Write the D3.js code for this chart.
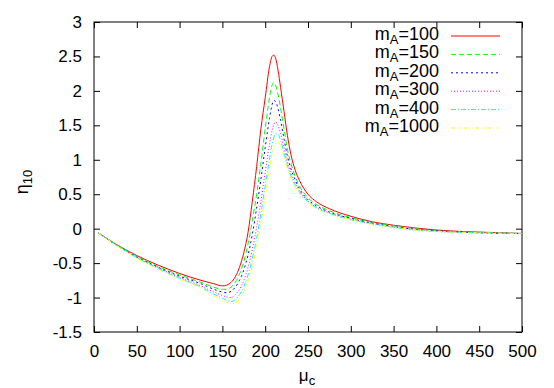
<!DOCTYPE html>
<html>
<head>
<meta charset="utf-8">
<script src="https://cdn.jsdelivr.net/npm/d3@7"></script>
<style>
  body { margin: 0; background: #fff; }
  svg { display: block; font-family: "Liberation Sans", Arial, sans-serif; }
</style>
</head>
<body>
<svg id="chart" width="554" height="388"></svg>
<script>
// mu_c grid shared by all series
var mu = [5, 25, 50, 75, 100, 125, 140, 150, 155, 160, 165, 170, 175, 180, 185, 190, 195, 200, 205, 208, 210, 212, 215, 218, 222, 226, 230, 235, 240, 250, 260, 275, 300, 325, 350, 375, 400, 450, 500];

// eta_10 for each m_A
var eta100  = [-0.06, -0.22, -0.39, -0.53, -0.65, -0.75, -0.80, -0.83, -0.82, -0.78, -0.70, -0.56, -0.35, -0.05, 0.40, 0.90, 1.45, 1.90, 2.35, 2.50, 2.52, 2.48, 2.30, 2.05, 1.70, 1.35, 1.08, 0.85, 0.70, 0.50, 0.39, 0.29, 0.18, 0.10, 0.05, 0.01, -0.02, -0.05, -0.07];
var eta150  = [-0.06, -0.22, -0.40, -0.55, -0.67, -0.78, -0.85, -0.88, -0.88, -0.85, -0.78, -0.66, -0.48, -0.22, 0.12, 0.50, 0.95, 1.45, 1.90, 2.08, 2.12, 2.09, 1.95, 1.75, 1.45, 1.15, 0.95, 0.76, 0.62, 0.45, 0.35, 0.26, 0.16, 0.09, 0.04, 0.00, -0.03, -0.05, -0.07];
var eta200  = [-0.06, -0.23, -0.41, -0.56, -0.69, -0.80, -0.88, -0.92, -0.93, -0.91, -0.85, -0.75, -0.60, -0.38, -0.08, 0.30, 0.72, 1.18, 1.60, 1.80, 1.86, 1.85, 1.74, 1.57, 1.30, 1.05, 0.87, 0.71, 0.58, 0.42, 0.33, 0.24, 0.15, 0.08, 0.03, -0.01, -0.03, -0.06, -0.07];
var eta300  = [-0.06, -0.23, -0.42, -0.57, -0.71, -0.83, -0.92, -0.97, -0.99, -1.00, -0.96, -0.88, -0.75, -0.56, -0.30, 0.02, 0.40, 0.82, 1.22, 1.42, 1.51, 1.55, 1.50, 1.38, 1.17, 0.96, 0.80, 0.66, 0.55, 0.40, 0.31, 0.23, 0.14, 0.07, 0.02, -0.01, -0.04, -0.06, -0.07];
var eta400  = [-0.06, -0.23, -0.42, -0.58, -0.72, -0.85, -0.95, -1.01, -1.04, -1.06, -1.03, -0.96, -0.84, -0.67, -0.43, -0.14, 0.22, 0.62, 1.01, 1.23, 1.32, 1.38, 1.37, 1.28, 1.10, 0.91, 0.76, 0.63, 0.53, 0.39, 0.30, 0.22, 0.13, 0.07, 0.02, -0.02, -0.04, -0.06, -0.07];
var eta1000 = [-0.06, -0.23, -0.43, -0.59, -0.73, -0.86, -0.97, -1.04, -1.07, -1.09, -1.08, -1.02, -0.91, -0.76, -0.54, -0.26, 0.08, 0.46, 0.85, 1.07, 1.17, 1.23, 1.26, 1.20, 1.05, 0.87, 0.73, 0.61, 0.51, 0.38, 0.29, 0.21, 0.13, 0.06, 0.02, -0.02, -0.04, -0.06, -0.07];

var seriesNames = ["100", "150", "200", "300", "400", "1000"];
var seriesValues = [eta100, eta150, eta200, eta300, eta400, eta1000];
var colors = ["#ff0000", "#00ff00", "#0000ff", "#ff00ff", "#00ffff", "#ffff00"];
var dashes = ["none", "5,3", "2,3", "1,2", "5,2,1,2", "4,2,1,2,1,2"];

var xTicks = [0, 50, 100, 150, 200, 250, 300, 350, 400, 450, 500];
var yTicks = [-1.5, -1, -0.5, 0, 0.5, 1, 1.5, 2, 2.5, 3];

drawChart();

function drawChart() {
  var svg = d3.select("#chart");
  var pLeft = 94, pRight = 522, pTop = 22, pBottom = 332;

  var x = d3.scaleLinear().domain([0, 500]).range([pLeft, pRight]);
  var y = d3.scaleLinear().domain([-1.5, 3]).range([pBottom, pTop]);

  // ticks inward, mirrored on all sides
  function tickAxis(axis, transform) {
    var g = svg.append("g").attr("transform", transform).call(axis);
    g.select(".domain").remove();
    g.selectAll("line").attr("stroke", "#000");
    g.selectAll("text").attr("fill", "#000").style("font-size", "17px").style("font-family", "Liberation Sans, Arial, sans-serif");
    return g;
  }

  tickAxis(d3.axisBottom(x).tickValues(xTicks).tickSize(-6).tickPadding(13).tickFormat(d3.format("d")), "translate(0," + pBottom + ")");
  tickAxis(d3.axisTop(x).tickValues(xTicks).tickSize(-6).tickFormat(""), "translate(0," + pTop + ")");
  tickAxis(d3.axisLeft(y).tickValues(yTicks).tickSize(-6).tickPadding(12).tickFormat(function (d) { return String(d); }), "translate(" + pLeft + ",0)");
  tickAxis(d3.axisRight(y).tickValues(yTicks).tickSize(-6).tickFormat(""), "translate(" + pRight + ",0)");

  // frame
  svg.append("rect")
    .attr("x", pLeft).attr("y", pTop)
    .attr("width", pRight - pLeft).attr("height", pBottom - pTop)
    .attr("fill", "none").attr("stroke", "#000").attr("stroke-width", 1);

  // curves
  var line = d3.line()
    .x(function (d) { return x(d[0]); })
    .y(function (d) { return y(d[1]); })
    .curve(d3.curveMonotoneX);

  seriesValues.forEach(function (vals, i) {
    var pts = mu.map(function (m, j) { return [m, vals[j]]; });
    svg.append("path")
      .datum(pts)
      .attr("d", line)
      .attr("fill", "none")
      .attr("stroke", colors[i])
      .attr("stroke-width", 1)
      .attr("stroke-dasharray", dashes[i]);
  });

  // legend
  var legend = svg.append("g");
  seriesNames.forEach(function (name, i) {
    var ly = 36 + i * 18.4;
    var t = legend.append("text")
      .attr("x", 439).attr("y", ly + 4)
      .attr("text-anchor", "end")
      .style("font-size", "18px");
    t.append("tspan").text("m");
    t.append("tspan").attr("dy", 4).style("font-size", "13px").text("A");
    t.append("tspan").attr("dy", -4).text("=" + name);
    legend.append("line")
      .attr("x1", 451).attr("x2", 500)
      .attr("y1", ly).attr("y2", ly)
      .attr("stroke", colors[i])
      .attr("stroke-width", 1)
      .attr("stroke-dasharray", dashes[i]);
  });

  // axis labels
  var yl = svg.append("text")
    .attr("transform", "translate(28,182) rotate(-90)")
    .attr("text-anchor", "middle")
    .style("font-size", "18px");
  yl.append("tspan").text("η");
  yl.append("tspan").attr("dy", 4).style("font-size", "13px").text("10");

  var xl = svg.append("text")
    .attr("x", 307).attr("y", 381)
    .attr("text-anchor", "middle")
    .style("font-size", "17px");
  xl.append("tspan").text("μ");
  xl.append("tspan").attr("dy", 4).style("font-size", "13px").text("c");
}
</script>
</body>
</html>
